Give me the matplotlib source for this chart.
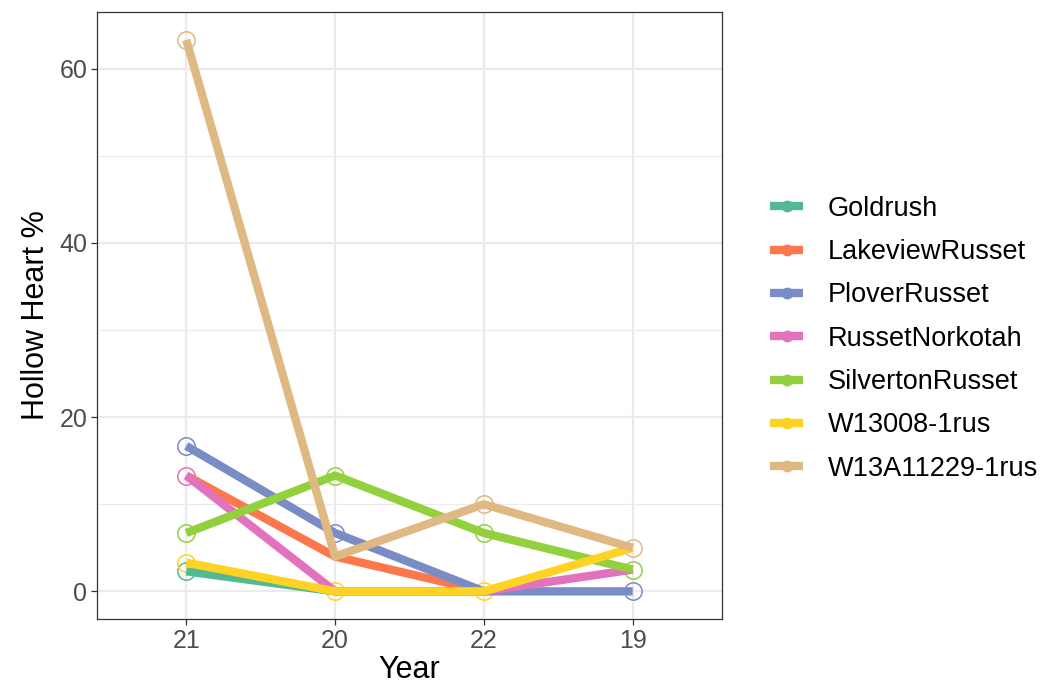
import matplotlib.pyplot as plt
from matplotlib.lines import Line2D

years = ['21', '20', '22', '19']
varieties = ['Goldrush', 'LakeviewRusset', 'PloverRusset', 'RussetNorkotah',
             'SilvertonRusset', 'W13008-1rus', 'W13A11229-1rus']
colors = ['#52B992', '#FD774C', '#7A8CC6', '#E272BE', '#92D13D', '#FFD323', '#DFB984']

# hollow heart % per variety, in year order above (None = not measured)
goldrush = [2.3, 0.0, 0.0, None]
lakeview = [13.3, 4.0, 0.0, None]
plover = [16.7, 6.7, 0.0, 0.0]
norkotah = [13.3, 0.0, 0.0, 2.5]
silverton = [6.7, 13.3, 6.7, 2.5]
w13008 = [3.3, 0.0, 0.0, 5.0]
w13a = [63.3, 4.0, 10.0, 5.0]
values = [goldrush, lakeview, plover, norkotah, silverton, w13008, w13a]

# which points carry an open circle in the original
circled = [
    [1, 0, 0, 0],
    [0, 0, 0, 0],
    [1, 1, 0, 1],
    [1, 0, 0, 0],
    [1, 1, 1, 1],
    [1, 1, 1, 0],
    [1, 0, 1, 1],
]

plt.rcParams['font.family'] = ['Liberation Sans', 'DejaVu Sans']

fig = plt.figure(figsize=(10.46, 6.94), dpi=100)
ax = fig.add_axes([97 / 1046, 75 / 694, 625 / 1046, 607 / 694])

xs = range(len(years))
for name, vals, col in zip(varieties, values, colors):
    px = [i for i, v in zip(xs, vals) if v is not None]
    py = [v for v in vals if v is not None]
    ax.plot(px, py, color=col, lw=6, solid_capstyle='butt', zorder=3)

for vals, mask, col in zip(values, circled, colors):
    px = [i for i, v, m in zip(xs, vals, mask) if v is not None and m]
    py = [v for v, m in zip(vals, mask) if v is not None and m]
    ax.plot(px, py, 'o', ms=12.5, mfc='none', mec=col, mew=1.1, zorder=2)

ax.set_xlim(-0.6, 3.6)
ax.set_ylim(-3.17, 66.5)
ax.set_xticks(list(xs))
ax.set_xticklabels(years)
ax.set_yticks([0, 20, 40, 60])
ax.set_yticks([10, 30, 50], minor=True)
ax.grid(True, which='major', color='#EBEBEB', lw=1.6, zorder=0)
ax.grid(True, which='minor', axis='y', color='#EBEBEB', lw=0.8, zorder=0)
ax.set_axisbelow(True)
for s in ax.spines.values():
    s.set_color('#333333')
    s.set_linewidth(0.9)
ax.tick_params(which='major', length=4, color='#333333', labelsize=18,
               labelcolor='#4D4D4D', width=0.9, pad=3)
ax.tick_params(which='minor', length=0)
ax.set_xlabel('Year', fontsize=22, labelpad=2)
ax.set_ylabel('Hollow Heart %', fontsize=22, labelpad=6)

handles = [Line2D([], [], color=c, lw=6, marker='o', ms=7.5, solid_capstyle='butt')
           for c in colors]
fig.legend(handles, varieties, loc='center left', bbox_to_anchor=(0.713, 0.512),
           frameon=False, fontsize=19.5, handlelength=1.22, handletextpad=0.9,
           labelspacing=0.64)

fig.savefig('out.png', dpi=100)
